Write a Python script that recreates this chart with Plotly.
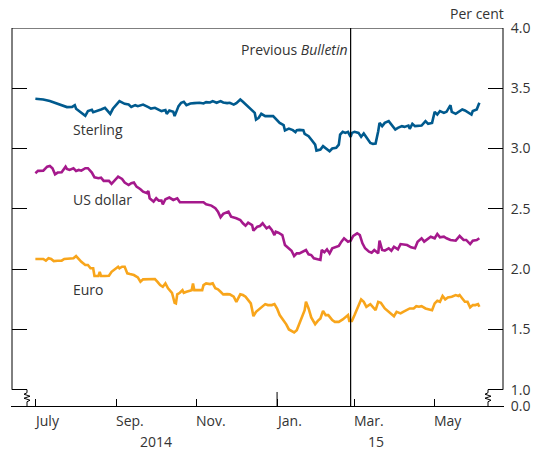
import plotly.graph_objects as go

# ---------------- data ----------------
sterling_dates = [
    "2014-07-01", "2014-07-07", "2014-07-12", "2014-07-16", "2014-07-22", "2014-07-25", "2014-07-29", "2014-07-31",
    "2014-08-01", "2014-08-05", "2014-08-08", "2014-08-10", "2014-08-13", "2014-08-14", "2014-08-17", "2014-08-20",
    "2014-08-23", "2014-08-25", "2014-08-27", "2014-08-29", "2014-09-02", "2014-09-03", "2014-09-07", "2014-09-10",
    "2014-09-12", "2014-09-15", "2014-09-17", "2014-09-21", "2014-09-25", "2014-09-27", "2014-09-30", "2014-10-03",
    "2014-10-05", "2014-10-08", "2014-10-09", "2014-10-11", "2014-10-14", "2014-10-15", "2014-10-18", "2014-10-20",
    "2014-10-22", "2014-10-24", "2014-10-27", "2014-10-30", "2014-11-03", "2014-11-06", "2014-11-08", "2014-11-11",
    "2014-11-13", "2014-11-16", "2014-11-19", "2014-11-21", "2014-11-24", "2014-11-26", "2014-11-29", "2014-12-01",
    "2014-12-04", "2014-12-06", "2014-12-10", "2014-12-13", "2014-12-15", "2014-12-16", "2014-12-18", "2014-12-20",
    "2014-12-23", "2014-12-29", "2015-01-01", "2015-01-03", "2015-01-06", "2015-01-07", "2015-01-10", "2015-01-12",
    "2015-01-13", "2015-01-15", "2015-01-16", "2015-01-18", "2015-01-21", "2015-01-22", "2015-01-25", "2015-01-27",
    "2015-01-30", "2015-01-31", "2015-02-03", "2015-02-05", "2015-02-08", "2015-02-10", "2015-02-12", "2015-02-15",
    "2015-02-17", "2015-02-18", "2015-02-20", "2015-02-22", "2015-02-24", "2015-02-26", "2015-02-27", "2015-03-01",
    "2015-03-04", "2015-03-06", "2015-03-08", "2015-03-10", "2015-03-13", "2015-03-15", "2015-03-17", "2015-03-19",
    "2015-03-20", "2015-03-22", "2015-03-24", "2015-03-27", "2015-03-29", "2015-04-01", "2015-04-03", "2015-04-06",
    "2015-04-08", "2015-04-11", "2015-04-12", "2015-04-14", "2015-04-16", "2015-04-19", "2015-04-21", "2015-04-24",
    "2015-04-26", "2015-04-29", "2015-05-01", "2015-05-03", "2015-05-05", "2015-05-08", "2015-05-10", "2015-05-13",
    "2015-05-14", "2015-05-17", "2015-05-19", "2015-05-22", "2015-05-24", "2015-05-27", "2015-05-29", "2015-05-30",
    "2015-06-02", "2015-06-04",
]
sterling_values = [
    3.413, 3.407, 3.394, 3.380, 3.360, 3.344, 3.346, 3.360,
    3.330, 3.296, 3.272, 3.311, 3.321, 3.302, 3.311, 3.324,
    3.338, 3.316, 3.288, 3.330, 3.380, 3.394, 3.371, 3.365,
    3.346, 3.360, 3.352, 3.365, 3.344, 3.332, 3.338, 3.324,
    3.311, 3.319, 3.288, 3.316, 3.305, 3.269, 3.352, 3.380,
    3.388, 3.360, 3.374, 3.377, 3.380, 3.374, 3.385, 3.382,
    3.394, 3.380, 3.394, 3.382, 3.377, 3.380, 3.365, 3.377,
    3.407, 3.388, 3.346, 3.316, 3.296, 3.241, 3.255, 3.288,
    3.269, 3.269, 3.236, 3.213, 3.194, 3.150, 3.166, 3.158,
    3.153, 3.136, 3.153, 3.155, 3.153, 3.122, 3.103, 3.075,
    3.033, 2.983, 2.992, 3.020, 2.998, 2.978, 3.000, 3.006,
    3.033, 3.116, 3.139, 3.130, 3.139, 3.097, 3.130, 3.139,
    3.130, 3.097, 3.125, 3.097, 3.047, 3.039, 3.042, 3.144,
    3.213, 3.186, 3.213, 3.228, 3.199, 3.158, 3.172, 3.186,
    3.180, 3.191, 3.164, 3.205, 3.186, 3.191, 3.191, 3.228,
    3.205, 3.213, 3.305, 3.282, 3.311, 3.296, 3.305, 3.360,
    3.305, 3.288, 3.305, 3.324, 3.316, 3.296, 3.282, 3.311,
    3.324, 3.380,
]

dollar_dates = [
    "2014-07-01", "2014-07-03", "2014-07-07", "2014-07-10", "2014-07-12", "2014-07-14", "2014-07-16", "2014-07-18",
    "2014-07-21", "2014-07-24", "2014-07-25", "2014-07-27", "2014-07-30", "2014-08-01", "2014-08-03", "2014-08-05",
    "2014-08-08", "2014-08-10", "2014-08-13", "2014-08-15", "2014-08-18", "2014-08-20", "2014-08-22", "2014-08-26",
    "2014-08-28", "2014-08-31", "2014-09-02", "2014-09-05", "2014-09-07", "2014-09-10", "2014-09-12", "2014-09-14",
    "2014-09-16", "2014-09-19", "2014-09-21", "2014-09-24", "2014-09-25", "2014-09-26", "2014-09-29", "2014-10-01",
    "2014-10-03", "2014-10-05", "2014-10-06", "2014-10-08", "2014-10-11", "2014-10-14", "2014-10-17", "2014-10-19",
    "2014-10-23", "2014-10-27", "2014-11-01", "2014-11-06", "2014-11-08", "2014-11-12", "2014-11-15", "2014-11-17",
    "2014-11-19", "2014-11-21", "2014-11-25", "2014-11-27", "2014-12-01", "2014-12-04", "2014-12-06", "2014-12-08",
    "2014-12-10", "2014-12-13", "2014-12-14", "2014-12-17", "2014-12-19", "2014-12-21", "2014-12-22", "2014-12-24",
    "2014-12-26", "2014-12-28", "2014-12-30", "2014-12-31", "2015-01-02", "2015-01-05", "2015-01-07", "2015-01-10",
    "2015-01-12", "2015-01-14", "2015-01-16", "2015-01-18", "2015-01-21", "2015-01-23", "2015-01-25", "2015-01-27",
    "2015-01-29", "2015-02-01", "2015-02-03", "2015-02-04", "2015-02-06", "2015-02-08", "2015-02-10", "2015-02-12",
    "2015-02-14", "2015-02-17", "2015-02-19", "2015-02-21", "2015-02-24", "2015-02-26", "2015-02-28", "2015-03-03",
    "2015-03-05", "2015-03-07", "2015-03-09", "2015-03-12", "2015-03-14", "2015-03-16", "2015-03-19", "2015-03-20",
    "2015-03-22", "2015-03-24", "2015-03-27", "2015-03-29", "2015-03-31", "2015-04-03", "2015-04-05", "2015-04-08",
    "2015-04-10", "2015-04-13", "2015-04-16", "2015-04-18", "2015-04-21", "2015-04-23", "2015-04-26", "2015-04-28",
    "2015-05-01", "2015-05-03", "2015-05-05", "2015-05-08", "2015-05-10", "2015-05-13", "2015-05-17", "2015-05-20",
    "2015-05-23", "2015-05-25", "2015-05-28", "2015-05-30", "2015-06-02", "2015-06-04",
]
dollar_values = [
    2.796, 2.815, 2.817, 2.850, 2.856, 2.837, 2.787, 2.801,
    2.804, 2.850, 2.831, 2.823, 2.837, 2.815, 2.823, 2.817,
    2.837, 2.837, 2.801, 2.762, 2.754, 2.759, 2.732, 2.732,
    2.707, 2.740, 2.767, 2.748, 2.718, 2.698, 2.713, 2.718,
    2.684, 2.663, 2.643, 2.630, 2.649, 2.588, 2.560, 2.588,
    2.568, 2.568, 2.538, 2.580, 2.594, 2.574, 2.588, 2.555,
    2.555, 2.555, 2.555, 2.555, 2.538, 2.527, 2.505, 2.477,
    2.430, 2.458, 2.477, 2.435, 2.422, 2.408, 2.380, 2.360,
    2.385, 2.366, 2.319, 2.352, 2.358, 2.380, 2.366, 2.339,
    2.352, 2.325, 2.283, 2.311, 2.302, 2.283, 2.200, 2.173,
    2.153, 2.109, 2.131, 2.131, 2.145, 2.159, 2.123, 2.117,
    2.090, 2.084, 2.076, 2.159, 2.140, 2.164, 2.131, 2.173,
    2.181, 2.192, 2.228, 2.256, 2.228, 2.236, 2.275, 2.297,
    2.283, 2.214, 2.173, 2.145, 2.136, 2.159, 2.131, 2.236,
    2.159, 2.153, 2.173, 2.153, 2.186, 2.164, 2.208, 2.200,
    2.200, 2.181, 2.173, 2.228, 2.256, 2.228, 2.256, 2.269,
    2.256, 2.292, 2.264, 2.269, 2.256, 2.242, 2.236, 2.275,
    2.242, 2.242, 2.208, 2.236, 2.242, 2.256,
]

euro_dates = [
    "2014-07-01", "2014-07-05", "2014-07-07", "2014-07-09", "2014-07-11", "2014-07-13", "2014-07-15", "2014-07-18",
    "2014-07-21", "2014-07-23", "2014-07-26", "2014-07-29", "2014-07-30", "2014-08-01", "2014-08-03", "2014-08-05",
    "2014-08-08", "2014-08-10", "2014-08-12", "2014-08-14", "2014-08-15", "2014-08-18", "2014-08-19", "2014-08-20",
    "2014-08-23", "2014-08-26", "2014-08-28", "2014-08-31", "2014-09-02", "2014-09-03", "2014-09-05", "2014-09-07",
    "2014-09-09", "2014-09-11", "2014-09-14", "2014-09-17", "2014-09-19", "2014-09-21", "2014-09-25", "2014-09-30",
    "2014-10-02", "2014-10-04", "2014-10-06", "2014-10-08", "2014-10-10", "2014-10-13", "2014-10-15", "2014-10-16",
    "2014-10-17", "2014-10-19", "2014-10-21", "2014-10-22", "2014-10-24", "2014-10-26", "2014-10-28", "2014-10-29",
    "2014-10-30", "2014-11-02", "2014-11-05", "2014-11-06", "2014-11-08", "2014-11-11", "2014-11-13", "2014-11-15",
    "2014-11-17", "2014-11-19", "2014-11-21", "2014-11-24", "2014-11-26", "2014-11-29", "2014-12-01", "2014-12-04",
    "2014-12-06", "2014-12-08", "2014-12-10", "2014-12-12", "2014-12-13", "2014-12-14", "2014-12-16", "2014-12-19",
    "2014-12-22", "2014-12-23", "2014-12-25", "2014-12-28", "2014-12-30", "2015-01-01", "2015-01-03", "2015-01-06",
    "2015-01-08", "2015-01-10", "2015-01-12", "2015-01-14", "2015-01-16", "2015-01-18", "2015-01-20", "2015-01-22",
    "2015-01-23", "2015-01-25", "2015-01-27", "2015-01-30", "2015-02-01", "2015-02-03", "2015-02-05", "2015-02-07",
    "2015-02-09", "2015-02-12", "2015-02-14", "2015-02-17", "2015-02-20", "2015-02-22", "2015-02-24", "2015-02-25",
    "2015-02-27", "2015-03-01", "2015-03-03", "2015-03-06", "2015-03-08", "2015-03-10", "2015-03-13", "2015-03-15",
    "2015-03-17", "2015-03-19", "2015-03-21", "2015-03-24", "2015-03-27", "2015-03-29", "2015-03-31", "2015-04-02",
    "2015-04-05", "2015-04-07", "2015-04-10", "2015-04-12", "2015-04-15", "2015-04-17", "2015-04-19", "2015-04-21",
    "2015-04-24", "2015-04-26", "2015-04-29", "2015-05-01", "2015-05-03", "2015-05-05", "2015-05-07", "2015-05-09",
    "2015-05-11", "2015-05-14", "2015-05-17", "2015-05-19", "2015-05-20", "2015-05-22", "2015-05-24", "2015-05-26",
    "2015-05-28", "2015-05-30", "2015-06-01", "2015-06-03", "2015-06-04",
]
euro_values = [
    2.084, 2.081, 2.084, 2.070, 2.090, 2.084, 2.067, 2.070,
    2.070, 2.084, 2.087, 2.090, 2.090, 2.109, 2.081, 2.061,
    2.034, 2.034, 2.007, 2.007, 1.943, 1.943, 1.978, 1.943,
    1.943, 1.945, 1.978, 2.007, 2.020, 2.007, 2.020, 2.020,
    1.965, 1.959, 1.951, 1.932, 1.895, 1.915, 1.918, 1.918,
    1.895, 1.868, 1.854, 1.882, 1.841, 1.804, 1.721, 1.716,
    1.791, 1.804, 1.826, 1.804, 1.812, 1.818, 1.826, 1.882,
    1.826, 1.826, 1.826, 1.868, 1.882, 1.876, 1.882, 1.841,
    1.832, 1.812, 1.791, 1.793, 1.791, 1.771, 1.729, 1.791,
    1.785, 1.771, 1.743, 1.716, 1.666, 1.610, 1.646, 1.674,
    1.702, 1.710, 1.702, 1.702, 1.710, 1.674, 1.619, 1.577,
    1.542, 1.500, 1.489, 1.475, 1.494, 1.550, 1.619, 1.660,
    1.729, 1.674, 1.600, 1.544, 1.571, 1.591, 1.654, 1.619,
    1.619, 1.577, 1.563, 1.563, 1.583, 1.605, 1.619, 1.571,
    1.571, 1.619, 1.674, 1.749, 1.729, 1.688, 1.710, 1.688,
    1.660, 1.729, 1.721, 1.674, 1.646, 1.627, 1.610, 1.646,
    1.633, 1.646, 1.660, 1.674, 1.674, 1.693, 1.688, 1.693,
    1.674, 1.666, 1.660, 1.716, 1.738, 1.729, 1.777, 1.749,
    1.766, 1.771, 1.785, 1.777, 1.785, 1.757, 1.729, 1.729,
    1.683, 1.702, 1.702, 1.710, 1.688,
]

series_names = ["Sterling", "US dollar", "Euro"]
series_colors = ["#005A8E", "#A5198C", "#F8A51B"]
label_dates = ["2014-07-28", "2014-07-28", "2014-07-28"]
label_values = [3.16, 2.575, 1.835]

month_ticks = ["2014-07-01", "2014-09-01", "2014-11-01", "2015-01-01", "2015-03-01", "2015-05-01"]
month_labels = ["July", "Sep.", "Nov.", "Jan.", "Mar.", "May"]
year_positions = ["2014-10-01", "2015-03-17"]
year_labels = ["2014", "15"]

y_tickvals = [0.865, 1.0, 1.5, 2.0, 2.5, 3.0, 3.5, 4.0]
y_ticktext = ["0.0", "1.0", "1.5", "2.0", "2.5", "3.0", "3.5", "4.0"]
Y_MIN, Y_MAX = 0.865, 4.0
BREAK_AT = 1.0
previous_bulletin = "2015-02-26"
year_boundary = "2015-01-01"

FONT = "Open Sans"
FS = 14
TXT = "#333333"


def zigzag(dx):
    pts = [(0, 0), (0, -3), (-3, -4.5), (3, -6.5), (-3, -8.5), (3, -10.5), (0, -12), (0, -16.5)]
    return "M" + " L".join(f"{x + dx},{y}" for x, y in pts)


fig = go.Figure()
for name, dts, vals, col in zip(series_names,
                                [sterling_dates, dollar_dates, euro_dates],
                                [sterling_values, dollar_values, euro_values],
                                series_colors):
    fig.add_trace(go.Scatter(x=dts, y=vals, mode="lines", name=name,
                             line=dict(color=col, width=2.6), showlegend=False,
                             hoverinfo="skip"))

shapes = []
# frame: top, left (above break), right (above break)
shapes.append(dict(type="line", xref="paper", yref="y", x0=0, x1=1, y0=Y_MAX, y1=Y_MAX,
                   line=dict(color="black", width=1)))
shapes.append(dict(type="line", xref="paper", yref="y", x0=0, x1=0, y0=BREAK_AT, y1=Y_MAX,
                   line=dict(color="black", width=1)))
shapes.append(dict(type="line", xref="paper", yref="y", x0=1, x1=1, y0=BREAK_AT, y1=Y_MAX,
                   line=dict(color="black", width=1)))
# axis-break zigzags
for xa, dx in [(0, 15), (1, -15)]:
    shapes.append(dict(type="path", xref="paper", yref="y", xsizemode="pixel", ysizemode="pixel",
                       xanchor=xa, yanchor=BREAK_AT, path=zigzag(dx),
                       line=dict(color="black", width=1)))
# previous Bulletin line
shapes.append(dict(type="line", xref="x", yref="y", x0=previous_bulletin, x1=previous_bulletin,
                   y0=Y_MIN, y1=Y_MAX, line=dict(color="black", width=1.2)))
# longer tick at the year boundary
shapes.append(dict(type="line", xref="x", yref="y", x0=year_boundary, x1=year_boundary,
                   y0=Y_MIN, y1=Y_MIN + 14 / 120.4, line=dict(color="black", width=1)))

annotations = []
for name, d, v in zip(series_names, label_dates, label_values):
    annotations.append(dict(x=d, y=v, xref="x", yref="y", text=name, showarrow=False,
                            xanchor="left", yanchor="middle",
                            font=dict(family=FONT, size=FS, color=TXT)))
for d, t in zip(month_ticks, month_labels):
    annotations.append(dict(x=d, y=0, xref="x", yref="paper", text=t, showarrow=False,
                            xanchor="left", yanchor="top", xshift=-3, yshift=-3,
                            font=dict(family=FONT, size=FS, color=TXT)))
for d, t in zip(year_positions, year_labels):
    annotations.append(dict(x=d, y=0, xref="x", yref="paper", text=t, showarrow=False,
                            xanchor="center", yanchor="top", yshift=-24,
                            font=dict(family=FONT, size=FS, color=TXT)))
annotations.append(dict(x=1, y=1, xref="paper", yref="paper", text="Per cent", showarrow=False,
                        xanchor="right", yanchor="bottom", xshift=3, yshift=3,
                        font=dict(family=FONT, size=FS, color=TXT)))
annotations.append(dict(x=previous_bulletin, y=Y_MAX, xref="x", yref="y",
                        text="Previous <i>Bulletin</i>", showarrow=False,
                        xanchor="right", yanchor="top", xshift=-1, yshift=-10,
                        font=dict(family=FONT, size=FS, color=TXT)))

fig.update_layout(
    width=531, height=442,
    margin=dict(l=4, r=36, t=20, b=44),
    paper_bgcolor="white", plot_bgcolor="white",
    showlegend=False,
    shapes=shapes,
    annotations=annotations,
    xaxis=dict(type="date", range=["2014-06-13 05:00", "2015-06-22"],
               showgrid=False, zeroline=False,
               showline=True, linecolor="black", linewidth=1,
               ticks="inside", ticklen=7, tickcolor="black", tickwidth=1,
               tickvals=month_ticks, showticklabels=False),
    yaxis=dict(range=[Y_MIN, Y_MAX], side="right",
               showgrid=False, zeroline=False,
               showline=True, linecolor="rgba(0,0,0,0)", mirror="ticks",
               ticks="inside", ticklen=15, tickcolor="black", tickwidth=1,
               tickvals=y_tickvals, ticktext=y_ticktext, ticklabelstandoff=4,
               tickfont=dict(family=FONT, size=FS, color=TXT)),
)

fig.write_html("out.html")
